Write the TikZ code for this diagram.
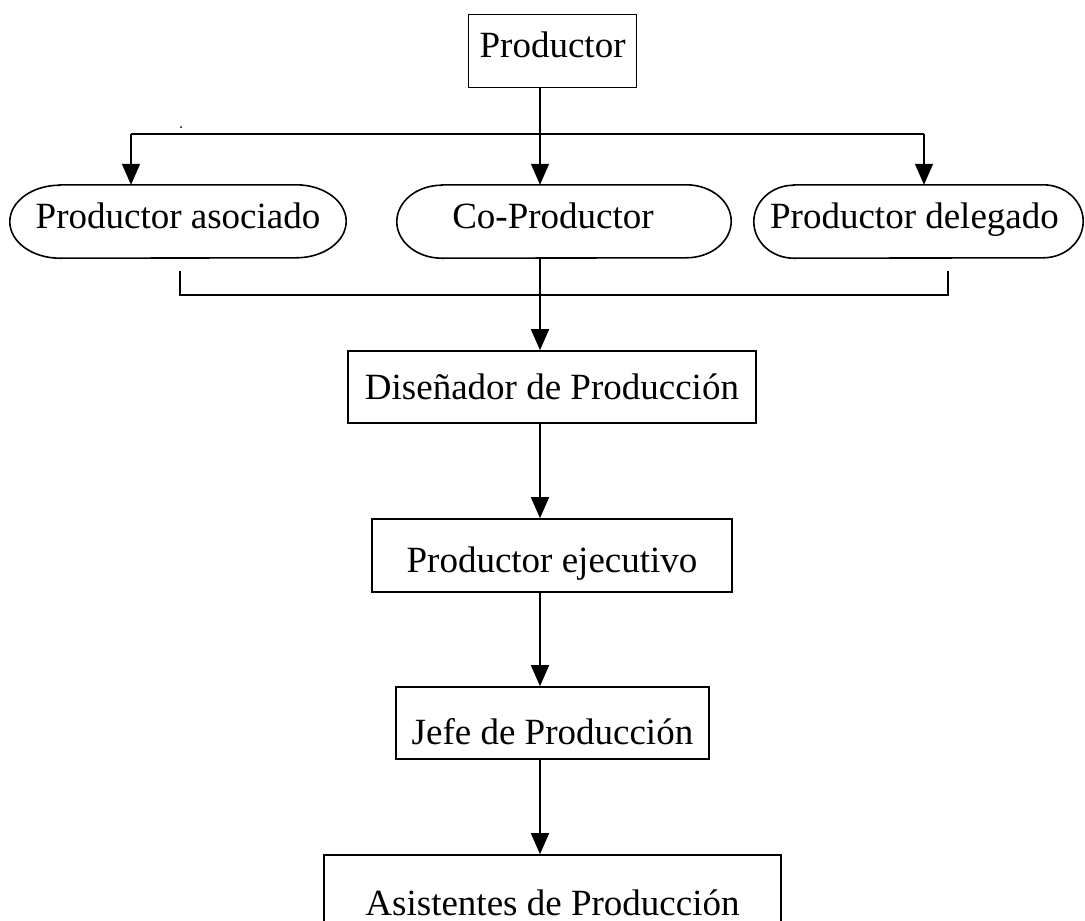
\documentclass[tikz,border=0pt]{standalone}
\usepackage{fontspec}
\setmainfont{Liberation Serif}
\usetikzlibrary{arrows.meta}
\newcommand\pilloutline[2]{%
  \draw[conn] ([xshift=#2]#1.north west) -- ([xshift=-#2]#1.north east)
    arc[start angle=90,end angle=-90,x radius=#2,y radius=36.5pt]
    -- ([xshift=#2]#1.south west)
    arc[start angle=270,end angle=90,x radius=#2,y radius=36.5pt] -- cycle;}
\begin{document}
\begin{tikzpicture}[x=1pt,y=-1pt,
  txt/.style={inner sep=0pt, text depth=0pt, font=\fontsize{37}{44}\selectfont},
  box/.style={txt, draw, line width=1.6pt},
  pill/.style={txt, minimum height=73pt, text height=13pt},
  conn/.style={line width=1.6pt},
  arr/.style={conn, -{Triangle[length=21pt,width=18pt]}}]
\clip (0,0) rectangle (1085,921);
\node[box, minimum width=168pt, minimum height=73pt, text height=13pt] (prod) at (552.6,50.8) {Productor};
\node[pill, minimum width=336pt] (asoc) at (178,221.5) {Productor asociado};
\node[pill, minimum width=334pt] (cop) at (564,221.5) {\hspace*{-11pt}Co-Productor\hspace*{11pt}};
\node[pill, minimum width=329pt] (del) at (918.5,221.5) {\hspace*{-4pt}Productor delegado\hspace*{4pt}};
\pilloutline{asoc}{50pt}
\pilloutline{cop}{45pt}
\pilloutline{del}{40pt}
\node[box, minimum width=408pt, minimum height=72pt, text height=24pt] (dis) at (552,387) {Diseñador de Producción};
\node[box, minimum width=360pt, minimum height=73pt, text height=33pt] (eje) at (552,555.5) {Productor ejecutivo};
\node[box, minimum width=313pt, minimum height=72pt, text height=42pt] (jefe) at (552.5,723) {Jefe de Producción};
\node[box, minimum width=457pt, minimum height=72pt, text height=48pt] (asis) at (552.5,891) {Asistentes de Producción};
\coordinate (sx) at (540,0);
\coordinate (hl) at (131,134);
\coordinate (hr) at (924,134);
\coordinate (bl) at (180,271);
\coordinate (br) at (948,271);
\draw[conn] (hl) -- (hr);
\draw[conn] (prod.south -| sx) -- (hl -| sx);
\draw[arr] (hl) -- (hl |- asoc.north);
\draw[arr] (hl -| sx) -- (sx |- cop.north);
\draw[arr] (hr) -- (hr |- del.north);
\draw[conn] (bl) -- ++(0,24) -| (br);
\draw[arr] (cop.south -| sx) -- (sx |- dis.north);
\draw[arr] (dis.south -| sx) -- (sx |- eje.north);
\draw[arr] (eje.south -| sx) -- (sx |- jefe.north);
\draw[arr] (jefe.south -| sx) -- (sx |- asis.north);
\fill (181,127) circle (1pt);
\end{tikzpicture}
\end{document}
